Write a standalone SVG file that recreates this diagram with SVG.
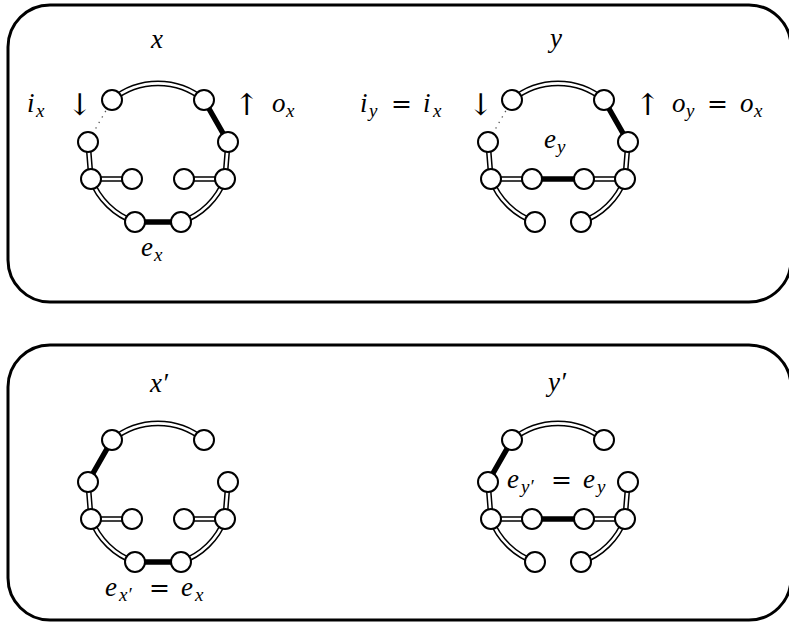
<svg xmlns="http://www.w3.org/2000/svg" width="789" height="622" viewBox="0 0 789 622">
<defs>
  <path id="dx" d="M112,100 A72,72 0 0,1 204,100 M88,142 L91,179 M225,179 L228,142 M91,179 L132,179 M225,179 L184,179 M91,179 A72,72 0 0,0 135,222 M181,222 A72,72 0 0,0 225,179"/>
</defs>
<g fill="none" stroke="#000" stroke-width="3">
  <rect x="8" y="5" width="783" height="297" rx="42"/>
  <rect x="8" y="345" width="783" height="275" rx="42"/>
</g>

<g id="connectors" fill="none">
  <g id="double-lines">
    <use href="#dx" stroke="#000" stroke-width="5.6"/>
    <use href="#dx" stroke="#fff" stroke-width="2.6"/>
    <use href="#dx" transform="translate(400,0)" stroke="#000" stroke-width="5.6"/>
    <use href="#dx" transform="translate(400,0)" stroke="#fff" stroke-width="2.6"/>
    <use href="#dx" transform="translate(0,340)" stroke="#000" stroke-width="5.6"/>
    <use href="#dx" transform="translate(0,340)" stroke="#fff" stroke-width="2.6"/>
    <use href="#dx" transform="translate(400,340)" stroke="#000" stroke-width="5.6"/>
    <use href="#dx" transform="translate(400,340)" stroke="#fff" stroke-width="2.6"/>
  </g>
  <g id="thick-lines" stroke="#000" stroke-width="5.5">
    <path d="M204,100 L228,142 M135,222 L181,222"/>
    <path d="M604,100 L628,142 M532,179 L584,179"/>
    <path d="M112,440 L88,482 M135,562 L181,562"/>
    <path d="M512,440 L488,482 M532,519 L584,519"/>
  </g>
  <g id="dotted-lines" stroke="#555" stroke-width="1.3" stroke-dasharray="1.3 5">
    <path d="M112,100 L88,142"/>
    <path d="M512,100 L488,142"/>
  </g>
</g>

<g fill="#fff" stroke="#000" stroke-width="2">
<g id="graph-x">
  <circle id="x-n1" cx="112" cy="100" r="10"/>
  <circle id="x-n2" cx="204" cy="100" r="10"/>
  <circle id="x-n3" cx="88" cy="142" r="10"/>
  <circle id="x-n4" cx="228" cy="142" r="10"/>
  <circle id="x-n5" cx="91" cy="179" r="10"/>
  <circle id="x-n6" cx="132" cy="179" r="10"/>
  <circle id="x-n7" cx="184" cy="179" r="10"/>
  <circle id="x-n8" cx="225" cy="179" r="10"/>
  <circle id="x-n9" cx="135" cy="222" r="10"/>
  <circle id="x-n10" cx="181" cy="222" r="10"/>
</g>
<g id="graph-y">
  <circle id="y-n1" cx="512" cy="100" r="10"/>
  <circle id="y-n2" cx="604" cy="100" r="10"/>
  <circle id="y-n3" cx="488" cy="142" r="10"/>
  <circle id="y-n4" cx="628" cy="142" r="10"/>
  <circle id="y-n5" cx="491" cy="179" r="10"/>
  <circle id="y-n6" cx="532" cy="179" r="10"/>
  <circle id="y-n7" cx="584" cy="179" r="10"/>
  <circle id="y-n8" cx="625" cy="179" r="10"/>
  <circle id="y-n9" cx="535" cy="222" r="10"/>
  <circle id="y-n10" cx="581" cy="222" r="10"/>
</g>
<g id="graph-xp">
  <circle id="xp-n1" cx="112" cy="440" r="10"/>
  <circle id="xp-n2" cx="204" cy="440" r="10"/>
  <circle id="xp-n3" cx="88" cy="482" r="10"/>
  <circle id="xp-n4" cx="228" cy="482" r="10"/>
  <circle id="xp-n5" cx="91" cy="519" r="10"/>
  <circle id="xp-n6" cx="132" cy="519" r="10"/>
  <circle id="xp-n7" cx="184" cy="519" r="10"/>
  <circle id="xp-n8" cx="225" cy="519" r="10"/>
  <circle id="xp-n9" cx="135" cy="562" r="10"/>
  <circle id="xp-n10" cx="181" cy="562" r="10"/>
</g>
<g id="graph-yp">
  <circle id="yp-n1" cx="512" cy="440" r="10"/>
  <circle id="yp-n2" cx="604" cy="440" r="10"/>
  <circle id="yp-n3" cx="488" cy="482" r="10"/>
  <circle id="yp-n4" cx="628" cy="482" r="10"/>
  <circle id="yp-n5" cx="491" cy="519" r="10"/>
  <circle id="yp-n6" cx="532" cy="519" r="10"/>
  <circle id="yp-n7" cx="584" cy="519" r="10"/>
  <circle id="yp-n8" cx="625" cy="519" r="10"/>
  <circle id="yp-n9" cx="535" cy="562" r="10"/>
  <circle id="yp-n10" cx="581" cy="562" r="10"/>
</g>
</g>

<text font-family="Liberation Serif" font-style="italic" font-size="27" x="151" y="48">x</text>
<text font-family="Liberation Serif" font-style="italic" font-size="27" x="550" y="47">y</text>
<text font-family="Liberation Serif" font-style="italic" font-size="27" x="150" y="392">x′</text>
<text font-family="Liberation Serif" font-style="italic" font-size="27" x="548" y="391">y′</text>

<text font-family="Liberation Serif" font-style="italic" font-size="27" x="27" y="112">i</text>
<text font-family="Liberation Serif" font-style="italic" font-size="19" x="36" y="117">x</text>
<text font-family="DejaVu Serif" font-size="30" x="67" y="115">↓</text>
<text font-family="DejaVu Serif" font-size="30" x="234" y="115">↑</text>
<text font-family="Liberation Serif" font-style="italic" font-size="27" x="272" y="112">o</text>
<text font-family="Liberation Serif" font-style="italic" font-size="19" x="286" y="117">x</text>

<text font-family="Liberation Serif" font-style="italic" font-size="27" x="360" y="112">i</text>
<text font-family="Liberation Serif" font-style="italic" font-size="19" x="369" y="117">y</text>
<text font-family="DejaVu Serif" font-size="25" x="391" y="112">=</text>
<text font-family="Liberation Serif" font-style="italic" font-size="27" x="423" y="112">i</text>
<text font-family="Liberation Serif" font-style="italic" font-size="19" x="433" y="117">x</text>
<text font-family="DejaVu Serif" font-size="30" x="468" y="115">↓</text>
<text font-family="DejaVu Serif" font-size="30" x="635" y="115">↑</text>
<text font-family="Liberation Serif" font-style="italic" font-size="27" x="672" y="112">o</text>
<text font-family="Liberation Serif" font-style="italic" font-size="19" x="686" y="117">y</text>
<text font-family="DejaVu Serif" font-size="25" x="707" y="112">=</text>
<text font-family="Liberation Serif" font-style="italic" font-size="27" x="740" y="112">o</text>
<text font-family="Liberation Serif" font-style="italic" font-size="19" x="754" y="117">x</text>

<text font-family="Liberation Serif" font-style="italic" font-size="27" x="141" y="256">e</text>
<text font-family="Liberation Serif" font-style="italic" font-size="19" x="154" y="261">x</text>
<text font-family="Liberation Serif" font-style="italic" font-size="27" x="544" y="148">e</text>
<text font-family="Liberation Serif" font-style="italic" font-size="19" x="557" y="153">y</text>

<text font-family="Liberation Serif" font-style="italic" font-size="27" x="105" y="596">e</text>
<text font-family="Liberation Serif" font-style="italic" font-size="19" x="119" y="601">x′</text>
<text font-family="DejaVu Serif" font-size="25" x="149" y="596">=</text>
<text font-family="Liberation Serif" font-style="italic" font-size="27" x="181" y="596">e</text>
<text font-family="Liberation Serif" font-style="italic" font-size="19" x="195" y="601">x</text>
<text font-family="Liberation Serif" font-style="italic" font-size="27" x="507" y="488">e</text>
<text font-family="Liberation Serif" font-style="italic" font-size="19" x="521" y="493">y′</text>
<text font-family="DejaVu Serif" font-size="25" x="551" y="488">=</text>
<text font-family="Liberation Serif" font-style="italic" font-size="27" x="583" y="488">e</text>
<text font-family="Liberation Serif" font-style="italic" font-size="19" x="597" y="493">y</text>
</svg>
